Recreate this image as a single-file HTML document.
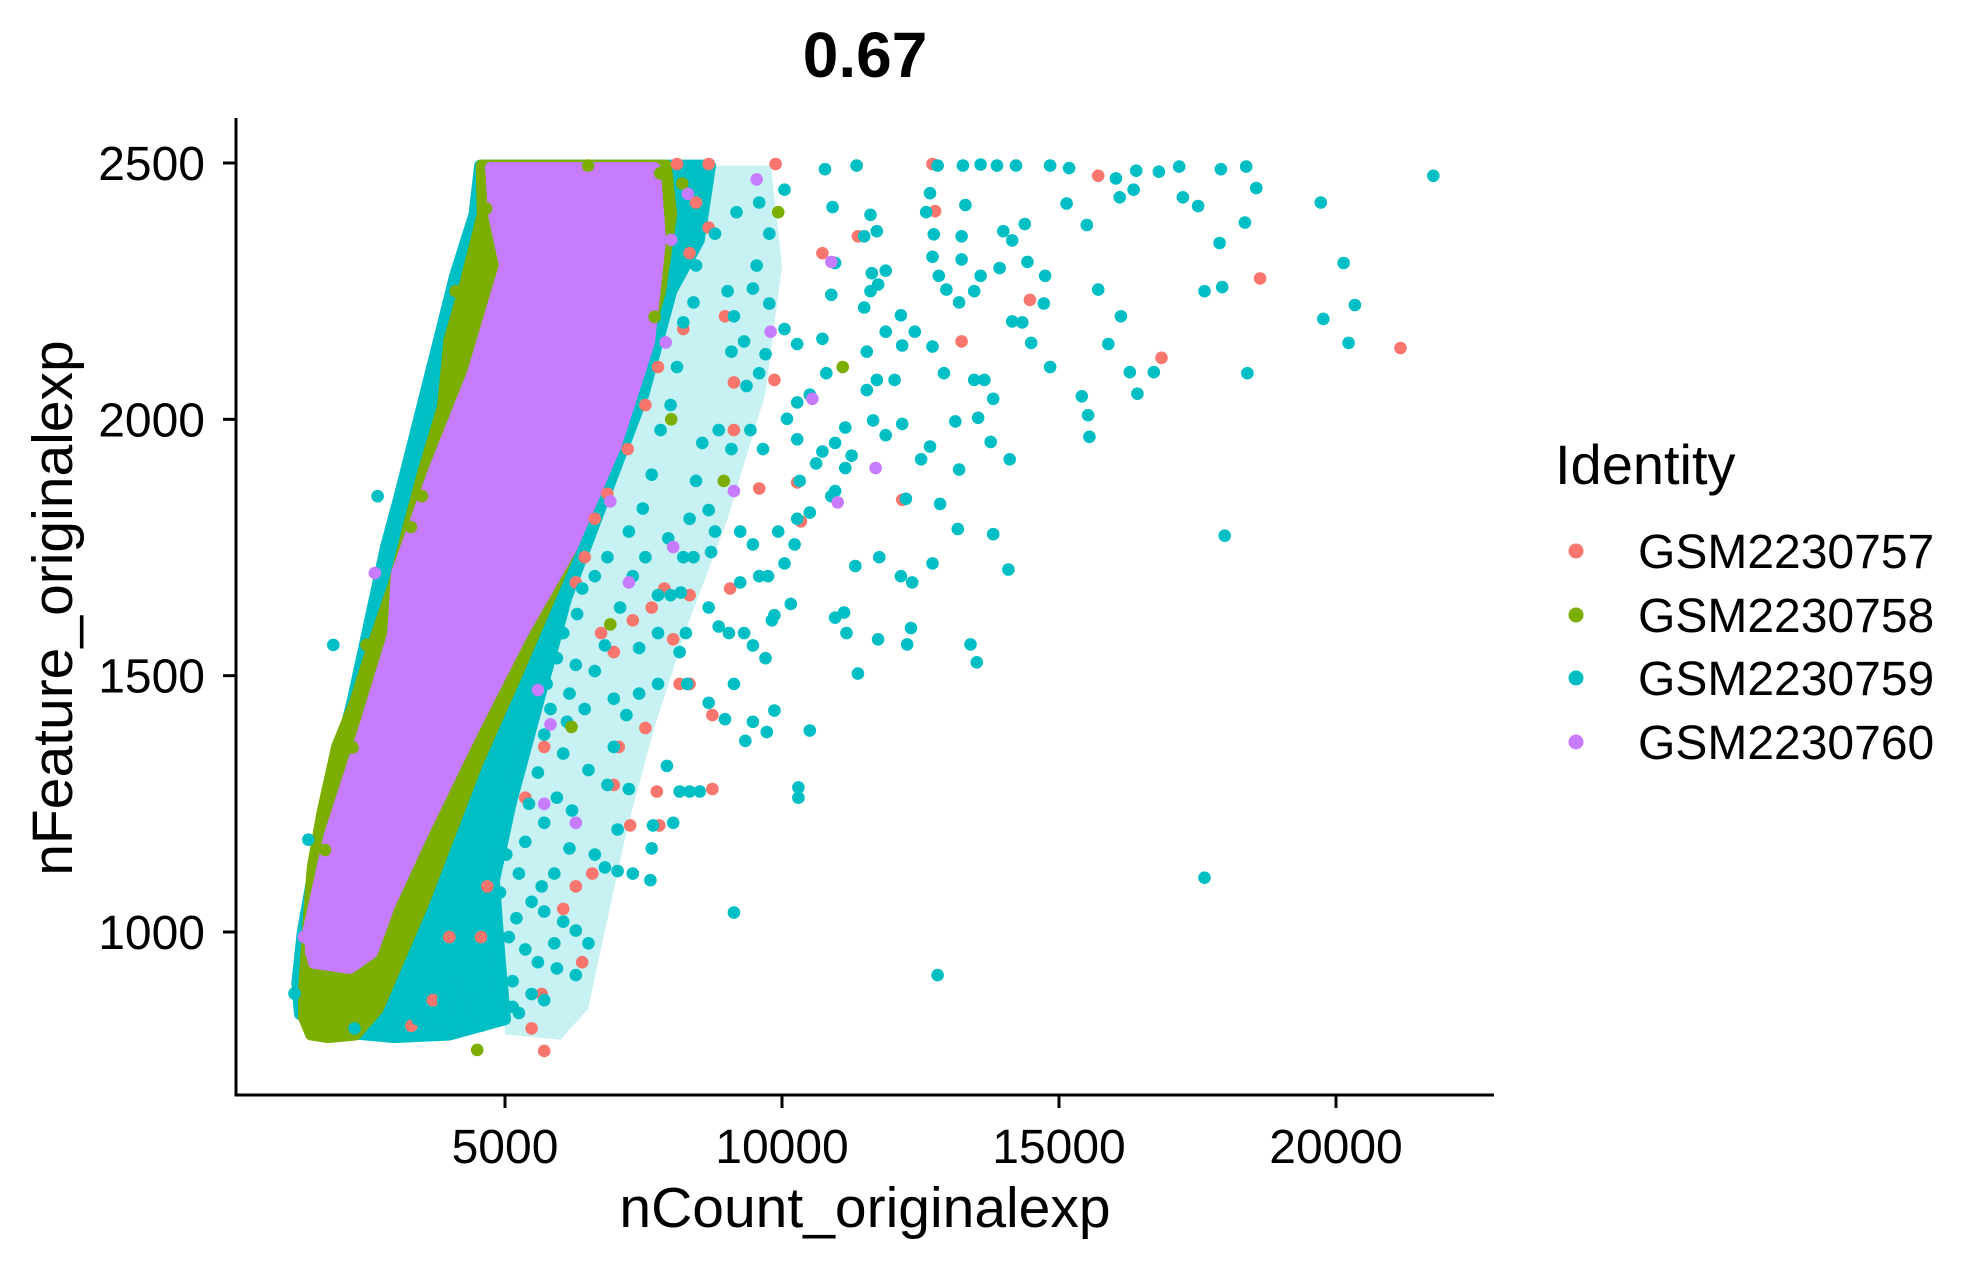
<!DOCTYPE html>
<html><head><meta charset="utf-8"><style>
html,body{margin:0;padding:0;background:#fff;}
svg{display:block;font-family:"Liberation Sans",Arial,sans-serif;}
</style></head><body>
<svg id="chart" width="1975" height="1261" viewBox="0 0 1975 1261" xmlns="http://www.w3.org/2000/svg">
<rect width="1975" height="1261" fill="#fff"/>
<text x="865" y="77" text-anchor="middle" font-size="64" font-weight="bold">0.67</text>
<g id="regions"></g>
<g id="points"></g>
<g id="axes"></g>
<text x="865" y="1227" text-anchor="middle" font-size="57">nCount_originalexp</text>
<text transform="translate(72,608) rotate(-90)" text-anchor="middle" font-size="57">nFeature_originalexp</text>
<g>
<text x="1555" y="484" font-size="56">Identity</text>
<g><circle cx="1576" cy="551" r="7.5" fill="#F8766D"/><text x="1638" y="568" font-size="48">GSM2230757</text></g>
<g><circle cx="1576" cy="615" r="7.5" fill="#7CAE00"/><text x="1638" y="632" font-size="48">GSM2230758</text></g>
<g><circle cx="1576" cy="678" r="7.5" fill="#00BFC4"/><text x="1638" y="695" font-size="48">GSM2230759</text></g>
<g><circle cx="1576" cy="742" r="7.5" fill="#C77CFF"/><text x="1638" y="759" font-size="48">GSM2230760</text></g>
</g>
</svg>
<script>
const xTicks = [5000, 10000, 15000, 20000];
const yTicks = [1000, 1500, 2000, 2500];
const xTickLabels = ["5000", "10000", "15000", "20000"];
const yTickLabels = ["1000", "1500", "2000", "2500"];

// Dense (overplotted) regions, as data-space outlines
const cyanSparseRegion = [[9800,2495],[10000,2300],[9700,2050],[9000,1800],[8300,1600],[7700,1400],[7200,1200],[6800,1000],[6500,850],[6000,790],[5000,800],[4900,950],[4800,1100],[5600,1450],[6800,1850],[8000,2250],[8700,2495]];
const cyanDenseRegion = [[8700,2495],[8500,2350],[8000,2250],[7500,2050],[6800,1850],[6100,1650],[5600,1450],[5100,1250],[4800,1100],[4900,950],[5000,830],[4000,800],[3000,795],[2000,805],[1300,840],[1250,900],[1350,1000],[1600,1150],[1900,1300],[2250,1450],[2550,1600],[2850,1750],[3100,1850],[3450,2000],[3800,2150],[4100,2280],[4450,2400],[4550,2495]];
const greenRegion = [[4580,2495],[4600,2400],[4250,2250],[4000,2155],[3880,2025],[3520,1895],[3280,1798],[3000,1680],[2620,1560],[2300,1450],[1970,1361],[1700,1230],[1530,1127],[1440,998],[1380,900],[1370,834],[1500,800],[1800,795],[2300,800],[2700,850],[3100,950],[3500,1050],[4000,1190],[4500,1330],[5200,1500],[6000,1700],[6800,1900],[7400,2100],[7800,2250],[8000,2400],[7900,2495]];
const purpleRegion = [[4750,2490],[7700,2490],[7800,2350],[7600,2150],[7000,1950],[6200,1750],[5300,1580],[4400,1390],[3500,1190],[2900,1050],[2600,960],[2200,930],[1550,940],[1450,1000],[1840,1190],[2440,1390],[2980,1580],[3050,1700],[3700,1895],[4420,2090],[5000,2300],[4800,2400]];

const redPoints = [[21164,2139],[18630,2275],[16850,2120],[15707,2475],[14475,2233],[13242,2152],[12763,2406],[12717,2498],[11370,2357],[12169,1843],[10274,1877],[10342,1801],[9588,1865],[9862,2077],[9885,2498],[9132,1979],[9132,2072],[8972,2201],[9064,1670],[8333,1657],[8333,1484],[8037,1571],[7876,1670],[7648,1633],[7306,1608],[6963,1546],[6735,1583],[7055,1361],[7534,1398],[8151,1484],[8744,1423],[8744,1279],[7785,1208],[7740,1274],[7260,1208],[6963,1287],[6575,1114],[6393,941],[6050,1045],[5662,879],[5480,812],[5708,768],[6278,1089],[5366,1262],[5708,1361],[4680,1089],[4566,990],[3995,990],[3698,867],[3311,817],[8447,2423],[8676,2374],[8676,2498],[8105,2498],[8333,2324],[8219,2176],[7762,2102],[7534,2028],[7214,1942],[6849,1855],[6621,1806],[6438,1731],[6278,1682],[10730,2324]];
const cyanPoints = [[21757,2475],[20137,2305],[19725,2423],[20342,2223],[20228,2149],[19771,2196],[18379,2493],[17922,2488],[18561,2451],[18356,2384],[18401,2090],[17945,2258],[17626,2250],[17991,1773],[17626,1106],[17169,2493],[16804,2483],[16393,2485],[16027,2470],[16096,2433],[16347,2448],[17237,2433],[17511,2416],[17899,2344],[15502,2379],[15182,2490],[15137,2421],[15707,2253],[16118,2201],[15890,2147],[16416,2050],[16712,2092],[16278,2092],[15525,2008],[15548,1966],[15411,2045],[14840,2102],[14726,2226],[14749,2280],[14338,2189],[14155,2191],[14498,2149],[14429,2307],[14155,2349],[13995,2367],[14383,2381],[14840,2495],[14224,2495],[13881,2495],[13584,2497],[13265,2495],[12808,2495],[12671,2441],[12603,2404],[13242,2357],[12740,2361],[12717,2317],[13310,2418],[13242,2312],[12831,2280],[12968,2253],[13196,2228],[13470,2250],[13584,2280],[13927,2295],[13653,2077],[13813,2040],[13470,2077],[12717,2142],[12922,2090],[12671,1947],[12854,1835],[13196,1902],[13767,1956],[14110,1922],[13539,2003],[13128,1996],[14087,1707],[13813,1776],[13174,1786],[13402,1561],[13516,1526],[12717,1719],[12237,1845],[12146,1694],[12351,1682],[12260,1561],[12329,1593],[11119,1623],[11164,1583],[10959,1613],[11370,1504],[11735,1571],[11324,1714],[11757,1731],[12511,1922],[12169,1991],[11644,1998],[11872,1969],[12032,2077],[11712,2077],[11530,2057],[12169,2144],[12397,2171],[11530,2132],[11872,2171],[12146,2203],[11735,2263],[11598,2250],[11484,2218],[11621,2285],[11872,2290],[11712,2367],[11598,2399],[11484,2357],[11347,2495],[10776,2488],[10913,2414],[10959,2305],[10890,2243],[10730,2157],[10799,2090],[10274,2147],[10274,2033],[10502,2048],[10091,2001],[10274,1961],[10730,1937],[10959,1954],[11142,1984],[11256,1929],[10959,1860],[11142,1905],[10616,1914],[10319,1880],[10502,1818],[10890,1850],[10228,1756],[9931,1781],[10274,1806],[10045,1719],[9748,1694],[9862,1618],[10159,1640],[10502,1393],[10296,1282],[10296,1262],[9862,1432],[9817,1608],[9315,1583],[9474,1559],[9132,1484],[9703,1534],[9041,1583],[9246,1682],[9588,1694],[9474,1756],[9246,1781],[8790,1781],[8721,1741],[8676,1633],[8858,1596],[8265,1583],[8151,1546],[8288,1484],[8676,1447],[8972,1415],[9337,1373],[9474,1410],[9725,1390],[9132,1038],[12808,916],[7671,1208],[8516,1274],[8333,1274],[8151,1274],[7922,1324],[8037,1213],[7648,1163],[7625,1101],[7306,1114],[7032,1119],[6804,1126],[7032,1200],[6621,1151],[7237,1279],[6963,1361],[7192,1423],[6963,1455],[7420,1465],[7762,1484],[7420,1554],[7762,1583],[7762,1657],[7990,1657],[8174,1662],[8402,1731],[8333,1806],[8676,1823],[8447,1880],[8562,1954],[8858,1979],[9087,1942],[9429,1979],[9657,1942],[9360,2065],[9588,2090],[9703,2127],[10045,2176],[9771,2226],[9474,2255],[9132,2201],[9087,2132],[9315,2152],[9018,2250],[9543,2300],[9771,2362],[10045,2448],[9588,2423],[9178,2404],[8790,2362],[8447,2300],[8402,2228],[8219,2189],[8105,2102],[7990,2028],[7808,1979],[7648,1892],[7488,1826],[7237,1781],[6849,1731],[6621,1694],[6393,1670],[6301,1620],[6050,1583],[5936,1534],[5753,1484],[6164,1465],[6438,1435],[6621,1509],[6804,1559],[7078,1633],[7306,1694],[7534,1731],[7945,1768],[8219,1731],[6278,1521],[6849,1287],[6507,1316],[6210,1237],[6164,1163],[5890,1114],[5662,1089],[5480,1059],[5708,1040],[6050,1020],[6278,1003],[6507,978],[5890,978],[5594,941],[5936,929],[6278,916],[5480,879],[5708,867],[5137,854],[5251,842],[4977,830],[4566,817],[4224,842],[3881,867],[4384,879],[4795,891],[5137,904],[5366,966],[5068,990],[4795,1003],[5206,1027],[4909,1077],[5251,1114],[5023,1151],[5366,1176],[5708,1213],[5434,1250],[5936,1262],[5594,1311],[6050,1348],[5708,1385],[6119,1410],[5822,1435],[4110,891],[3881,842],[3653,817],[3425,830],[2968,817],[2626,805],[2283,812],[4110,805],[1200,880],[1900,1560],[1450,1180],[2700,1850]];
const greenPoints = [[9931,2404],[11096,2102],[8950,1880],[4658,2411],[4658,2349],[4018,2082],[3995,2152],[4110,2250],[4498,770],[7800,2480],[8200,2460],[6500,2495],[3500,1850],[3300,1790],[2500,1560],[2250,1360],[1750,1160],[8000,2000],[7700,2200],[6900,1600],[6200,1400]];
const purplePoints = [[4749,2490],[9543,2468],[10548,2040],[11005,1838],[11690,1905],[10890,2307],[9794,2171],[9132,1860],[8037,1751],[7237,1682],[6278,1213],[5822,1405],[5708,1250],[5594,1472],[1370,990],[8300,2440],[8000,2350],[7900,2150],[6900,1840],[2650,1700],[1500,960]];

const X0 = 236, Y0 = 1095, X1 = 1494, YT = 118;
function xs(v){ return 505 + (v - 5000) * (831 / 15000); }
function ys(v){ return 163 + (2500 - v) * (769 / 1500); }
const NS = "http://www.w3.org/2000/svg";

const regions = document.getElementById('regions');
function drawRegion(pts, color, op, sw, name){
  const p = document.createElementNS(NS, 'polygon');
  p.setAttribute('points', pts.map(d => xs(d[0]).toFixed(1) + ',' + ys(d[1]).toFixed(1)).join(' '));
  p.setAttribute('fill', color);
  p.setAttribute('fill-opacity', op);
  p.setAttribute('stroke', color);
  p.setAttribute('stroke-opacity', op);
  p.setAttribute('stroke-width', sw);
  p.setAttribute('stroke-linejoin', 'round');
  
  
  regions.appendChild(p);
}
drawRegion(cyanSparseRegion, '#00BFC4', 0.22, 0, 'gsm2230759-sparse-region');
drawRegion(cyanDenseRegion, '#00BFC4', 1, 12, 'gsm2230759-dense-region');
drawRegion(greenRegion, '#7CAE00', 1, 12, 'gsm2230758-dense-region');
drawRegion(purpleRegion, '#C77CFF', 1, 12, 'gsm2230760-dense-region');

const pg = document.getElementById('points');
function drawPoints(pts, color, name){
  pts.forEach(d => {
    const c = document.createElementNS(NS, 'circle');
    c.setAttribute('cx', xs(d[0]).toFixed(1));
    c.setAttribute('cy', ys(d[1]).toFixed(1));
    c.setAttribute('r', '6.3');
    c.setAttribute('fill', color);
    
    
    pg.appendChild(c);
  });
}
drawPoints(redPoints, '#F8766D', 'point-gsm2230757');
drawPoints(cyanPoints, '#00BFC4', 'point-gsm2230759');
drawPoints(greenPoints, '#7CAE00', 'point-gsm2230758');
drawPoints(purplePoints, '#C77CFF', 'point-gsm2230760');

const ax = document.getElementById('axes');
function line(x1,y1,x2,y2,name){
  const l = document.createElementNS(NS, 'line');
  l.setAttribute('x1', x1); l.setAttribute('y1', y1);
  l.setAttribute('x2', x2); l.setAttribute('y2', y2);
  l.setAttribute('stroke', '#000'); l.setAttribute('stroke-width', '3');
  
  
  ax.appendChild(l);
}
function txt(x,y,s,anchor,name){
  const t = document.createElementNS(NS, 'text');
  t.setAttribute('x', x); t.setAttribute('y', y);
  t.setAttribute('text-anchor', anchor); t.setAttribute('font-size', '48');
  t.textContent = s;
  
  
  ax.appendChild(t);
}
line(X0, YT, X0, Y0 + 1.5, 'y-axis-line');
line(X0 - 1.5, Y0, X1, Y0, 'x-axis-line');
xTicks.forEach((v,i) => {
  line(xs(v), Y0, xs(v), Y0 + 13, 'x-tick');
  txt(xs(v), 1163, xTickLabels[i], 'middle', 'x-tick-label');
});
yTicks.forEach((v,i) => {
  line(X0 - 13, ys(v), X0, ys(v), 'y-tick');
  txt(205, ys(v) + 17, yTickLabels[i], 'end', 'y-tick-label');
});
</script>
</body></html>
